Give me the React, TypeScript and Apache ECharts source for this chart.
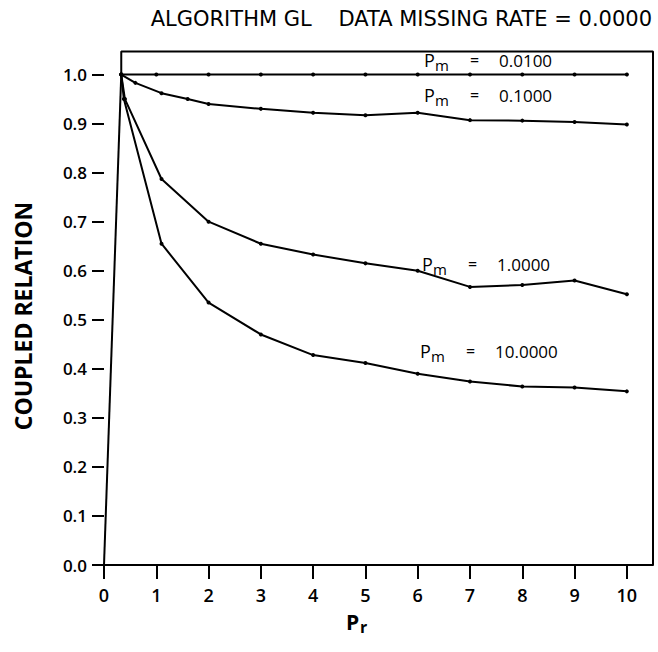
import React, { useEffect, useRef } from "react";
import * as echarts from "echarts";

// Tick values
const prTicks = [0, 1, 2, 3, 4, 5, 6, 7, 8, 9, 10];
const relTicks = [0, 0.1, 0.2, 0.3, 0.4, 0.5, 0.6, 0.7, 0.8, 0.9, 1.0];

// Series: P_m = 0.0100
const pm001X = [0.33, 1, 2, 3, 4, 5, 6, 7, 8, 9, 10];
const pm001Y = [1.0, 1.0, 1.0, 1.0, 1.0, 1.0, 1.0, 1.0, 1.0, 1.0, 1.0];

// Series: P_m = 0.1000
const pm01X = [0.33, 0.6, 1.1, 1.6, 2, 3, 4, 5, 6, 7, 8, 9, 10];
const pm01Y = [1.0, 0.983, 0.962, 0.95, 0.94, 0.93, 0.922, 0.917, 0.922, 0.907, 0.906, 0.903, 0.898];

// Series: P_m = 1.0000
const pm1X = [0.33, 0.4, 1.1, 2, 3, 4, 5, 6, 7, 8, 9, 10];
const pm1Y = [1.0, 0.95, 0.787, 0.7, 0.655, 0.633, 0.615, 0.6, 0.567, 0.571, 0.58, 0.552];

// Series: P_m = 10.0000
const pm10X = [0.33, 0.38, 1.1, 2, 3, 4, 5, 6, 7, 8, 9, 10];
const pm10Y = [1.0, 0.95, 0.655, 0.535, 0.47, 0.428, 0.412, 0.39, 0.374, 0.364, 0.362, 0.354];

// Skewed left axis stroke and plot frame (data units)
const axisStrokeX = [0, 0.33];
const axisStrokeY = [0, 1.0];
const frameX = [0.33, 0.33, 10.5, 10.5];
const frameY = [1.0, 1.047, 1.047, 0];

const zip = (xs: number[], ys: number[]) => xs.map((x, i) => [x, ys[i]]);

const FONT = "'Open Sans', 'Noto Sans', sans-serif";
const WIDE = "'DejaVu Sans', 'Open Sans', sans-serif";

function pmLabel(left: number, top: number, value: string) {
  return [
    { type: "text", left, top, style: { text: "P", font: `18px ${FONT}`, fill: "#000" } },
    { type: "text", left: left + 11, top: top + 6, style: { text: "m", font: `15px ${FONT}`, fill: "#000" } },
    { type: "text", left: left + 46, top: top + 1, style: { text: "=", font: `16px ${FONT}`, fill: "#000" } },
    { type: "text", left: left + 75, top: top + 1, style: { text: value, font: `17px ${FONT}`, fill: "#000" } },
  ];
}

export default function App() {
  const ref = useRef<HTMLDivElement>(null);
  useEffect(() => {
    if (!ref.current) return;
    const chart = echarts.init(ref.current, null, { renderer: "svg" });
    const lineStyle = { color: "#000", width: 2 };
    const curve = (name: string, xs: number[], ys: number[]) => ({
      name,
      type: "line",
      data: zip(xs, ys),
      symbol: "circle",
      symbolSize: 4,
      itemStyle: { color: "#000" },
      lineStyle,
      silent: true,
    });
    chart.setOption({
      animation: false,
      backgroundColor: "#fff",
      grid: { left: 104, right: 5, top: 50, bottom: 87 },
      xAxis: {
        type: "value",
        min: 0,
        max: 10.5,
        interval: 1,
        axisLine: { show: true, lineStyle: { color: "#000", width: 2 } },
        axisTick: { show: true, length: 14, customValues: prTicks, lineStyle: { color: "#000", width: 2 } },
        axisLabel: {
          customValues: prTicks,
          margin: 21,
          color: "#000",
          fontSize: 18,
          fontWeight: 600,
          fontFamily: FONT,
        },
        splitLine: { show: false },
      },
      yAxis: {
        type: "value",
        min: 0,
        max: 1.05,
        interval: 0.1,
        axisLine: { show: false },
        axisTick: { show: true, length: 12, customValues: relTicks, lineStyle: { color: "#000", width: 2 } },
        axisLabel: {
          customValues: relTicks,
          margin: 17,
          color: "#000",
          fontSize: 17,
          fontWeight: 600,
          fontFamily: FONT,
          formatter: (v: number) => v.toFixed(1),
        },
        splitLine: { show: false },
      },
      graphic: [
        {
          type: "text",
          right: 6,
          top: 8,
          style: {
            text: "ALGORITHM GL    DATA MISSING RATE = 0.0000",
            font: `21px ${WIDE}`,
            fill: "#000",
          },
        },
        {
          type: "text",
          x: 23,
          y: 316,
          rotation: Math.PI / 2,
          style: {
            text: "COUPLED RELATION",
            font: `bold 23px ${FONT}`,
            fill: "#000",
            textAlign: "center",
            textVerticalAlign: "middle",
          },
        },
        ...pmLabel(424, 51, "0.0100"),
        ...pmLabel(424, 86, "0.1000"),
        ...pmLabel(422, 255, "1.0000"),
        ...pmLabel(420, 342, "10.0000"),
        { type: "text", left: 346, top: 611, style: { text: "P", font: `bold 21px ${FONT}`, fill: "#000" } },
        { type: "text", left: 360, top: 619, style: { text: "r", font: `bold 16px ${FONT}`, fill: "#000" } },
      ],
      series: [
        {
          name: "axis",
          type: "line",
          data: zip(axisStrokeX, axisStrokeY),
          symbol: "none",
          lineStyle,
          silent: true,
        },
        {
          name: "frame",
          type: "line",
          data: zip(frameX, frameY),
          symbol: "none",
          lineStyle,
          silent: true,
        },
        curve("Pm = 0.0100", pm001X, pm001Y),
        curve("Pm = 0.1000", pm01X, pm01Y),
        curve("Pm = 1.0000", pm1X, pm1Y),
        curve("Pm = 10.0000", pm10X, pm10Y),
      ],
    });
    return () => chart.dispose();
  }, []);
  return (
    <div
      ref={ref}
      style={{ position: "fixed", left: 0, top: 0, width: 658, height: 652 }}
    />
  );
}
